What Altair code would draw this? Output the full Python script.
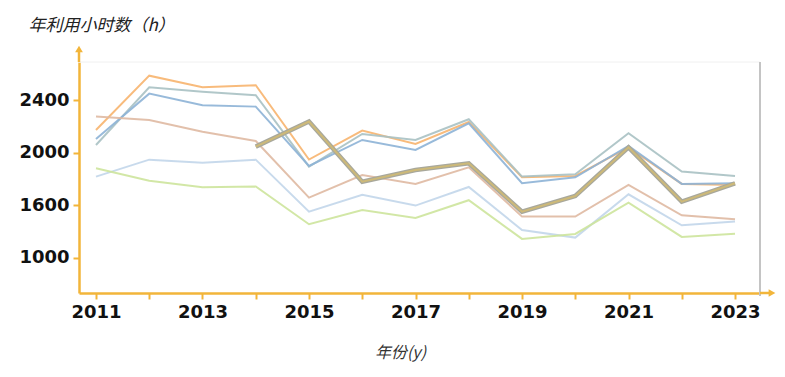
import altair as alt
import pandas as pd

years = list(range(2011, 2024))
s_orange = [2175, 2589, 2500, 2516, 1950, 2170, 2069, 2236, 1815, 1825, 2043, 1764, 1756]
s_teal = [2061, 2500, 2467, 2440, 1896, 2145, 2099, 2257, 1820, 1837, 2150, 1858, 1825]
s_blue = [2107, 2452, 2363, 2353, 1901, 2099, 2023, 2226, 1769, 1815, 2053, 1764, 1769]
s_tan = [2277, 2251, 2162, 2091, 1660, 1832, 1764, 1891, 1515, 1515, 1756, 1525, 1495]
s_lightblue = [1820, 1949, 1926, 1949, 1553, 1682, 1599, 1741, 1413, 1355, 1685, 1449, 1477]
s_green = [1883, 1789, 1739, 1744, 1457, 1566, 1505, 1640, 1345, 1383, 1621, 1360, 1385]
thick_years = years[3:]
s_thick = [2048, 2239, 1781, 1870, 1921, 1553, 1672, 2043, 1629, 1769]

names = ["系列1", "系列2", "系列3", "系列4", "系列5", "系列6"]
colors = ["#f7b46e", "#a9c1c3", "#8db2d6", "#dfb9a2", "#c2d6ea", "#cde49c"]
series = [s_orange, s_teal, s_blue, s_tan, s_lightblue, s_green]

rows = []
for n, vals in zip(names, series):
    for yr, v in zip(years, vals):
        rows.append({"year": yr, "value": v, "series": n})
df = pd.DataFrame(rows)
df_thick = pd.DataFrame({"year": thick_years, "value": s_thick})

AX = "#f2b53a"
W, H = 681, 231

x_enc = alt.X(
    "year:Q",
    scale=alt.Scale(domain=[2010.681, 2023.469], nice=False, zero=False),
    axis=alt.Axis(
        values=years,
        format="d",
        labelExpr="datum.value % 2 == 1 ? datum.label : ''",
        title="年份(y)",
        titleX=321,
        titleY=59,
        titleBaseline="middle",
        titleAlign="center",
        titleFont="Noto Sans CJK SC",
        titleFontStyle="italic",
        titleFontWeight="normal",
        titleFontSize=16,
        titleColor="#333333",
        tickSize=6,
        labelPadding=4,
    ),
)
y_enc = alt.Y(
    "value:Q",
    scale=alt.Scale(domain=[933, 2693], nice=False, zero=False),
    axis=alt.Axis(
        values=[1200, 1600, 2000, 2400],
        format="d",
        labelExpr="datum.value == 1200 ? '1000' : datum.label",
        title="年利用小时数（h）",
        titleAngle=0,
        titleX=-51,
        titleY=-37,
        titleAlign="left",
        titleBaseline="middle",
        titleFont="Noto Sans CJK SC",
        titleFontStyle="italic",
        titleFontWeight="normal",
        titleFontSize=17,
        titleColor="#222222",
        tickSize=6,
        labelPadding=4,
    ),
)

lines = alt.Chart(df).mark_line(strokeWidth=2, opacity=0.9).encode(
    x=x_enc,
    y=y_enc,
    color=alt.Color("series:N", scale=alt.Scale(domain=names, range=colors), legend=None),
)

thick_under = alt.Chart(df_thick).mark_line(strokeWidth=4.5, color="#a8a89c").encode(
    x=x_enc, y=y_enc
)
thick_over = alt.Chart(df_thick).mark_line(strokeWidth=2, color="#cdb978").encode(
    x=x_enc, y=y_enc
)

one = pd.DataFrame({"k": [0]})
top_line = alt.Chart(one).mark_rule(color="#f0f0f0", strokeWidth=1).encode(
    x=alt.value(0), x2=alt.value(W), y=alt.value(0)
)
right_line = alt.Chart(one).mark_rule(color="#c4c4c4", strokeWidth=2).encode(
    x=alt.value(W), y=alt.value(0), y2=alt.value(H + 3)
)
y_ext = alt.Chart(one).mark_rule(color=AX, strokeWidth=2.5).encode(
    x=alt.value(0), y=alt.value(-12), y2=alt.value(0)
)
x_ext = alt.Chart(one).mark_rule(color=AX, strokeWidth=2.5).encode(
    x=alt.value(W), x2=alt.value(W + 10), y=alt.value(H)
)
y_arrow = alt.Chart(one).mark_point(shape="triangle-up", filled=True, color=AX, size=60, opacity=1).encode(
    x=alt.value(0), y=alt.value(-13)
)
x_arrow = alt.Chart(one).mark_point(shape="triangle-right", filled=True, color=AX, size=60, opacity=1).encode(
    x=alt.value(W + 12), y=alt.value(H)
)

chart = alt.layer(
    top_line, right_line, lines, thick_under, thick_over, y_ext, x_ext, y_arrow, x_arrow
).properties(
    width=W,
    height=H,
    autosize=alt.AutoSizeParams(type="none"),
    padding={"left": 79, "top": 62, "right": 25, "bottom": 84},
    background="white",
).configure_view(stroke=None).configure_axis(
    grid=False,
    domainColor=AX,
    domainWidth=2.5,
    tickColor=AX,
    tickWidth=2,
    labelFont="DejaVu Sans",
    labelFontWeight="bold",
    labelFontSize=18,
    labelColor="#111111",
)

chart.save("out.html", embed_options={"renderer": "svg", "actions": False})
